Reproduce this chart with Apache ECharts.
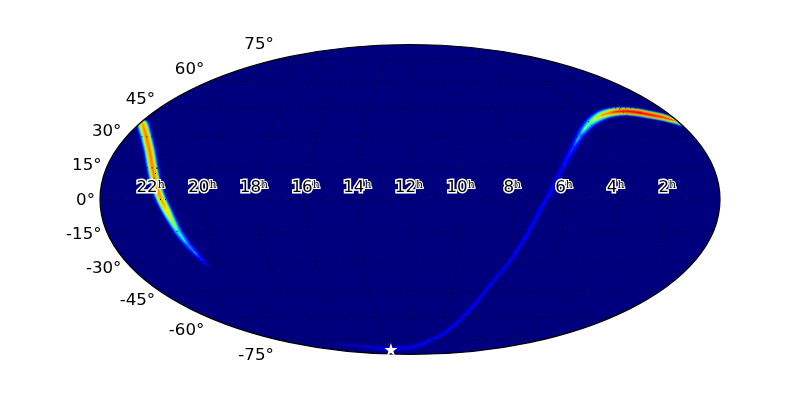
<!DOCTYPE html>
<html><head><meta charset="utf-8">
<style>html,body{margin:0;background:#fff}#c{width:800px;height:400px}</style>
<script src="https://cdn.jsdelivr.net/npm/echarts@6/dist/echarts.min.js"></script>
</head><body><div id="c"></div>
<script>
// Ridge A (around 22h): right ascension (h), declination (deg), probability (0-1), spread (deg)
const arcARa  = [23.91,23.24,22.64,22.24,21.95,21.75,21.62,21.45,21.31,21.17,20.99,20.78,20.67];
const arcADec = [37.0,30.9,23.55,16.3,9.2,3.53,-0.24,-4.94,-9.67,-15.37,-21.6,-27.95,-31.44];
const arcAP   = [0.75,0.8,0.8,0.8,0.78,0.78,0.76,0.7,0.55,0.38,0.25,0.13,0.06];
const arcAS   = [1.4,1.5,1.5,1.5,1.45,1.4,1.35,1.3,1.2,1.1,1.0,0.85,0.7];
// Ridge B (south pole to 2h)
const arcBRa  = [20.03,17.93,16.73,14.92,13.35,12.0,10.35,9.43,8.92,8.55,8.21,7.78,7.35,6.85,6.45,6.11,5.64,5.23,4.76,3.99,3.27,2.65,2.02,1.37,0.9,0.45,0.05,0.0];
const arcBDec = [-78.3,-80.0,-81.8,-83.2,-81.8,-81.5,-76.4,-70.65,-61.45,-50.7,-39.95,-29.45,-16.8,-2.59,5.42,12.5,20.16,25.5,30.9,37.0,40.62,42.36,43.1,42.57,41.3,39.95,37.67,35.98];
const arcBP   = [0.03,0.07,0.09,0.11,0.11,0.12,0.12,0.12,0.12,0.12,0.12,0.12,0.13,0.13,0.13,0.12,0.15,0.18,0.26,0.42,0.62,0.8,0.9,0.93,0.92,0.88,0.65,0.3];
const arcBS   = [0.4,0.45,0.5,0.5,0.5,0.5,0.5,0.5,0.5,0.5,0.5,0.5,0.55,0.6,0.75,0.85,1.05,1.15,1.3,1.45,1.4,1.1,0.85,0.8,0.75,0.65,0.4,0.25];
const starPoint = [14.92,-83.2];
const raTicks  = [2,4,6,8,10,12,14,16,18,20,22];
const decTicks = [-75,-60,-45,-30,-15,0,15,30,45,60,75];
const probLevels = [0.02,0.04,0.06,0.08,0.1,0.12,0.14,0.17,0.2,0.23,0.26,0.29,0.32,0.35,0.38,0.41,0.44,0.47,0.5,0.53,0.56,0.59,0.62,0.65,0.68,0.71,0.74,0.77,0.8,0.83,0.86,0.89,0.92];

const R2 = Math.SQRT2;
function moll(ra, dec){
  const phi = dec*Math.PI/180, lam = (12-ra)*Math.PI/12;
  let th = phi;
  for(let i=0;i<60;i++){
    const d = (2*th+Math.sin(2*th)-Math.PI*Math.sin(phi))/(2+2*Math.cos(2*th)+1e-9);
    th -= d; if(Math.abs(d)<1e-8) break;
  }
  return [2*R2/Math.PI*lam*Math.cos(th), R2*Math.sin(th)];
}
function lerp(stops,v){
  for(let i=1;i<stops.length;i++) if(v<=stops[i][0]){
    const a=stops[i-1],b=stops[i]; return a[1]+(b[1]-a[1])*(v-a[0])/(b[0]-a[0]);
  }
  return stops[stops.length-1][1];
}
function jet(v){
  const r=lerp([[0,0],[.35,0],[.66,1],[.89,1],[1,.5]],v),
        g=lerp([[0,0],[.125,0],[.375,1],[.64,1],[.91,0],[1,0]],v),
        b=lerp([[0,.5],[.11,1],[.34,1],[.65,0],[1,0]],v);
  return 'rgb('+[r,g,b].map(c=>Math.round(c*255)).join(',')+')';
}
const arcs = [
  {ra:arcARa,dec:arcADec,p:arcAP,s:arcAS},
  {ra:arcBRa,dec:arcBDec,p:arcBP,s:arcBS}
];
arcs.forEach(a=>{a.xy=a.ra.map((r,i)=>moll(r,a.dec[i]));});
const bandData=[];
arcs.forEach((a,k)=>probLevels.forEach(l=>bandData.push([0,0,k,l])));

function limb(api){
  const c=api.coord([0,0]), s=api.size([2*R2,R2]);
  return {cx:c[0],cy:c[1],rx:s[0],ry:s[1]};
}
function renderBand(params,api){
  const a=arcs[api.value(2)], L=api.value(3);
  const pts=a.xy.map(q=>api.coord(q));
  const unit=api.size([2*R2/180,0])[0];
  const n=pts.length, up=[], dn=[];
  if(!a.p.some(p=>p>L)) return {type:'group',children:[]};
  for(let i=0;i<n;i++){
    const p0=pts[Math.max(i-1,0)], p1=pts[Math.min(i+1,n-1)];
    let tx=p1[0]-p0[0], ty=p1[1]-p0[1]; const m=Math.hypot(tx,ty)||1; tx/=m; ty/=m;
    const d=a.p[i]>L ? a.s[i]*unit*Math.sqrt(2*Math.log(a.p[i]/L)) : 0;
    up.push([pts[i][0]-ty*d,pts[i][1]+tx*d]);
    dn.unshift([pts[i][0]+ty*d,pts[i][1]-tx*d]);
  }
  const fill=jet(L);
  return {type:'polygon',silent:true,shape:{points:up.concat(dn),smooth:0.25},
    style:{fill,shadowBlur:2.5,shadowColor:fill},clipPath:{type:'ellipse',shape:limb(api)}};
}

const lineStyle={color:'#000',width:1,type:[1,4],opacity:1};
const grat=[];
decTicks.forEach(d=>{
  const e=moll(0.0001,d),w=moll(23.9999,d);
  grat.push({type:'line',data:[w,e],symbol:'none',silent:true,lineStyle,z:3});
});
raTicks.forEach(r=>{
  const pts=[];
  for(const d of [-75,-70,-65,-60,-55,-50,-45,-40,-35,-30,-25,-20,-15,-10,-5,0,5,10,15,20,25,30,35,40,45,50,55,60,65,70,75]) pts.push(moll(r,d));
  grat.push({type:'line',data:pts,symbol:'none',silent:true,lineStyle,z:3});
});

const font='"DejaVu Sans"';
const option={
  animation:false,backgroundColor:'#fff',
  grid:{left:100,top:44.5,width:620,height:310},
  xAxis:{type:'value',min:-2*R2,max:2*R2,show:false},
  yAxis:{type:'value',min:-R2,max:R2,show:false},
  series:[
    {type:'custom',data:[[0,0]],silent:true,clip:false,z:1,renderItem:(p,api)=>({type:'ellipse',shape:limb(api),style:{fill:'#00007f'}})},
    {type:'custom',data:bandData,silent:true,clip:false,z:2,renderItem:renderBand},
    ...grat,
    {type:'custom',data:[[0,0]],silent:true,clip:false,z:4,renderItem:(p,api)=>({type:'ellipse',shape:limb(api),style:{fill:'none',stroke:'#000',lineWidth:1.2}})},
    {type:'scatter',z:6,silent:true,symbol:'path://M50 0L61.8 35.4L99 35.4L69 57.3L80.4 92.7L50 70.8L19.6 92.7L31 57.3L1 35.4L38.2 35.4Z',
      symbolSize:13,itemStyle:{color:'#fff',opacity:1},data:[moll(starPoint[0],starPoint[1])]},
    {type:'scatter',z:7,silent:true,symbolSize:0,itemStyle:{opacity:1},
      data:raTicks.map(r=>({value:moll(r,0),name:String(r)})),
      label:{show:true,position:'top',distance:4,offset:[-1,0],
        formatter:p=>'{d|'+p.name+'}{h|h}',
        rich:{
          d:{fontFamily:font,fontSize:16.67,color:'#000',textBorderColor:'#fff',textBorderWidth:3,lineHeight:16},
          h:{fontFamily:'"DejaVu Serif"',fontSize:11,color:'#000',textBorderColor:'#fff',textBorderWidth:2,verticalAlign:'top',lineHeight:16}
        }}},
    {type:'scatter',z:7,silent:true,symbolSize:0,itemStyle:{opacity:1},
      data:decTicks.map(d=>({value:[moll(23.9999,d)[0],moll(0,d)[1]],
        label:{show:true,position:'left',distance:0,offset:[-5,-d/5+0.8],formatter:d+'°',
          fontFamily:font,fontSize:16.67,color:'#000'}}))}
  ]
};
echarts.init(document.getElementById('c'),null,{renderer:'canvas'}).setOption(option);
</script></body></html>
